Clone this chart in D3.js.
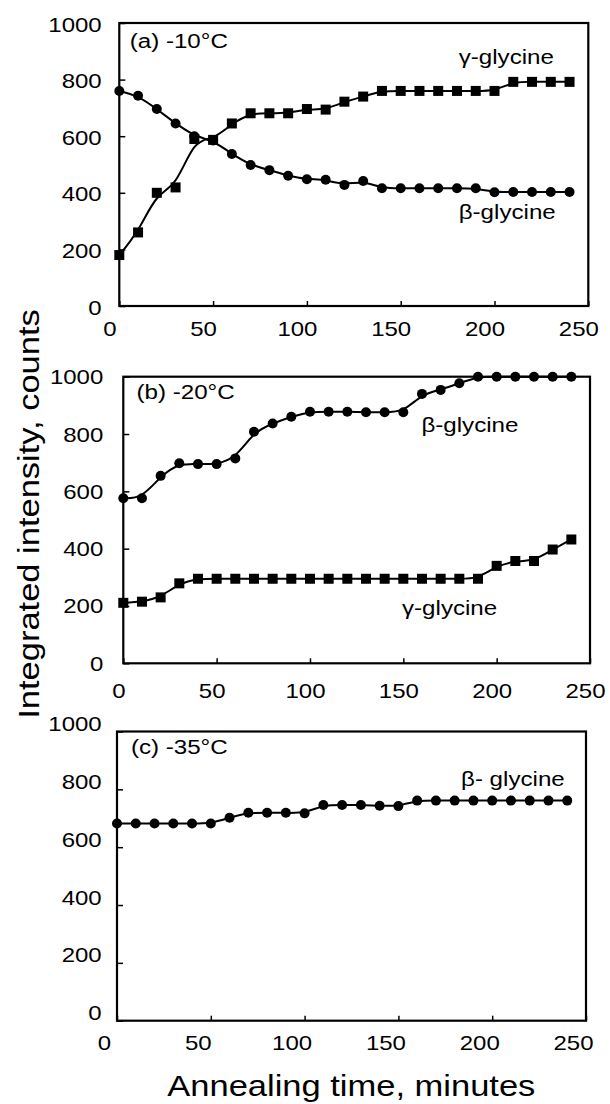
<!DOCTYPE html>
<html>
<head>
<meta charset="utf-8">
<script src="https://cdn.jsdelivr.net/npm/d3@7"></script>
<style>
  body { margin: 0; background: #fff; }
  svg { display: block; font-family: "Liberation Sans", Arial, Helvetica, sans-serif; }
</style>
</head>
<body>
<div id="chart"></div>
<script>
// annealing times (minutes)
var times = [0, 10, 20, 30, 40, 50, 60, 70, 80, 90, 100, 110, 120,
             130, 140, 150, 160, 170, 180, 190, 200, 210, 220, 230, 240];

// (a) -10°C
var betaA  = [760, 743, 696, 645, 600, 585, 537, 498, 480, 460, 448, 446, 428,
              442, 416, 416, 416, 416, 416, 416, 402, 403, 403, 403, 403];
var gammaA = [180, 260, 400, 419, 590, 587, 645, 681, 681, 681, 696, 694, 722,
              740, 760, 760, 760, 760, 760, 760, 760, 792, 792, 792, 792];

// (b) -20°C
var betaB  = [576, 576, 654, 698, 695, 695, 715, 808, 837, 860, 878, 878, 878,
              876, 876, 876, 940, 954, 977, 1000, 1000, 1000, 1000, 1000, 1000];
var gammaB = [211, 215, 230, 279, 295, 295, 295, 295, 295, 295, 295, 295, 295,
              295, 295, 295, 295, 295, 295, 295, 340, 357, 357, 397, 432];

// (c) -35°C
var betaC  = [682, 682, 682, 682, 682, 682, 702, 719, 719, 719, 717, 746, 746,
              746, 743, 742, 761, 761, 761, 761, 761, 761, 761, 761, 761];

var xTicks = [0, 50, 100, 150, 200, 250];
var yTicks = [0, 200, 400, 600, 800, 1000];

var width = 610, height = 1104;
var sx = 1.15; // the scanned lettering is a bit wide

var svg = d3.select("#chart")
  .append("svg")
    .attr("width", width)
    .attr("height", height);

// panel frames and label spots
var panels = [
  { left: 119.3, right: 588.3, top: 23, bottom: 306, xDx: -10, xDy: 23, yPad: 17.6, yDy: 1,
    tag: "(a) -10°C", tagX: 129.7, tagY: 48,
    series: [
      { values: betaA, marker: "circle", name: "β-glycine", lx: 458.7, ly: 219 },
      { values: gammaA, marker: "square", name: "γ-glycine", lx: 458.7, ly: 64 }
    ] },
  { left: 123.3, right: 590, top: 376.7, bottom: 663.3, xDx: -5, xDy: 28, yPad: 20, yDy: 0,
    tag: "(b) -20°C", tagX: 136.5, tagY: 399,
    series: [
      { values: betaB, marker: "circle", name: "β-glycine", lx: 421.4, ly: 432 },
      { values: gammaB, marker: "square", name: "γ-glycine", lx: 402, ly: 615 }
    ] },
  { left: 117, right: 586, top: 731.5, bottom: 1020.7, xDx: -13, xDy: 22, yPad: 15.3, yDy: -8,
    tag: "(c) -35°C", tagX: 130.9, tagY: 754,
    series: [
      { values: betaC, marker: "circle", name: "β- glycine", lx: 461, ly: 786 }
    ] }
];

function label(txt, x0, y0, size, anchor) {
  svg.append("text")
    .attr("transform", "translate(" + x0 + "," + y0 + ") scale(" + sx + ",1)")
    .attr("font-size", size)
    .attr("text-anchor", anchor || "start")
    .attr("fill", "#000")
    .text(txt);
}

panels.forEach(function(p) {
  var x = d3.scaleLinear().domain([0, 250]).range([p.left, p.right]);
  var y = d3.scaleLinear().domain([0, 1000]).range([p.bottom, p.top]);

  // frame
  svg.append("rect")
    .attr("x", p.left).attr("y", p.top)
    .attr("width", p.right - p.left).attr("height", p.bottom - p.top)
    .attr("fill", "none").attr("stroke", "#000").attr("stroke-width", 2.2);

  // y axis, ticks pointing in
  var ya = svg.append("g")
    .attr("transform", "translate(" + p.left + ",0)")
    .call(d3.axisLeft(y).tickValues(yTicks).tickSize(-6).tickFormat(d3.format("d")));
  ya.select(".domain").remove();
  ya.selectAll("line").attr("stroke-width", 1.5);
  ya.selectAll("text")
    .attr("font-size", 20)
    .attr("font-family", "Liberation Sans, Arial, sans-serif")
    .attr("fill", "#000")
    .attr("x", -p.yPad / 1.2)
    .attr("dy", "0.35em")
    .attr("y", p.yDy)
    .attr("transform", "scale(1.2,1)");

  // x axis
  var xa = svg.append("g")
    .attr("transform", "translate(0," + p.bottom + ")")
    .call(d3.axisBottom(x).tickValues(xTicks).tickSize(-5).tickFormat(d3.format("d")));
  xa.select(".domain").remove();
  xa.selectAll("line").attr("stroke-width", 1.5);
  xa.selectAll("text")
    .attr("font-size", 20)
    .attr("font-family", "Liberation Sans, Arial, sans-serif")
    .attr("fill", "#000")
    .attr("x", p.xDx / 1.2)
    .attr("y", p.xDy)
    .attr("dy", "0.35em")
    .attr("transform", "scale(1.2,1)");

  var line = d3.line()
    .x(function(d, i) { return x(times[i]); })
    .y(function(d) { return y(d); })
    .curve(d3.curveBasis);

  p.series.forEach(function(s) {
    svg.append("path")
      .attr("d", line(s.values))
      .attr("fill", "none")
      .attr("stroke", "#000")
      .attr("stroke-width", 2);

    var g = svg.append("g");
    if (s.marker === "circle") {
      g.selectAll("circle")
        .data(s.values)
        .enter().append("circle")
          .attr("cx", function(d, i) { return x(times[i]); })
          .attr("cy", function(d) { return y(d); })
          .attr("r", 5)
          .attr("fill", "#000");
    } else {
      g.selectAll("rect")
        .data(s.values)
        .enter().append("rect")
          .attr("x", function(d, i) { return x(times[i]) - 5; })
          .attr("y", function(d) { return y(d) - 5; })
          .attr("width", 10)
          .attr("height", 10)
          .attr("fill", "#000");
    }

    label(s.name, s.lx, s.ly, 21);
  });

  label(p.tag, p.tagX, p.tagY, 21);
});

// axis titles
svg.append("text")
  .attr("transform", "translate(39,514) rotate(-90) scale(" + sx + ",1)")
  .attr("font-size", 30)
  .attr("text-anchor", "middle")
  .text("Integrated intensity, counts");

label("Annealing time, minutes", 351.3, 1096, 30, "middle");
</script>
</body>
</html>
